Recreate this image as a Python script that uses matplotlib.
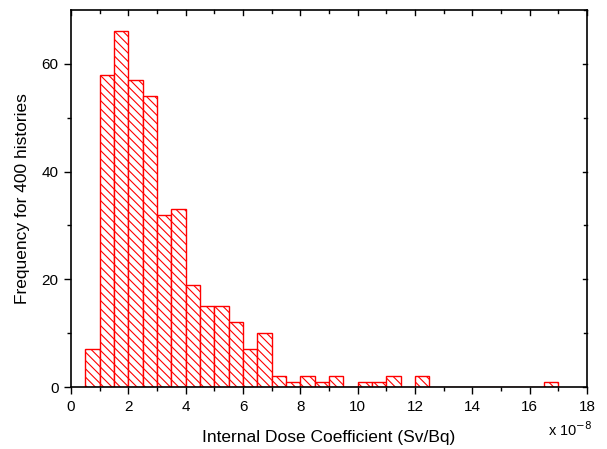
import matplotlib
matplotlib.use("Agg")
import matplotlib.pyplot as plt
import numpy as np

plt.rcParams["font.family"] = ["Liberation Sans", "DejaVu Sans"]
plt.rcParams["hatch.color"] = "red"
plt.rcParams["hatch.linewidth"] = 0.8

# bin left edges (x 1e-8 Sv/Bq), width 0.5
bin_left = [0.5, 1.0, 1.5, 2.0, 2.5, 3.0, 3.5, 4.0, 4.5, 5.0, 5.5, 6.0, 6.5, 7.0, 7.5, 8.0, 8.5, 9.0,
            9.5, 10.0, 10.5, 11.0, 11.5, 12.0, 12.5, 13.0, 13.5, 14.0, 14.5, 15.0, 15.5, 16.0, 16.5]
counts = [7, 58, 66, 57, 54, 32, 33, 19, 15, 15, 12, 7, 10, 2, 1, 2, 1, 2,
          0, 1, 1, 2, 0, 2, 0, 0, 0, 0, 0, 0, 0, 0, 1]
bin_width = 0.5

fig = plt.figure(figsize=(6.07, 4.49), dpi=100)
ax = fig.add_axes([0.117, 0.138, 0.850, 0.840])

edges = np.append(bin_left, bin_left[-1] + bin_width)
centers = np.array(bin_left) + bin_width / 2
ax.hist(centers, bins=edges, weights=counts, histtype="bar", facecolor="white",
        edgecolor="red", linewidth=1.0, hatch="\\\\\\\\")

ax.set_xlim(0, 18)
ax.set_ylim(0, 70)
ax.set_xticks(range(0, 19, 2))
ax.set_xticks(range(1, 18, 2), minor=True)
ax.set_yticks([0, 20, 40, 60])
ax.set_yticks([10, 30, 50], minor=True)
ax.tick_params(which="both", direction="out", top=False, right=False, labelsize=11)
ax.tick_params(which="major", length=5, width=1, pad=4)
ax.tick_params(which="minor", length=3, width=1)
for s in ax.spines.values():
    s.set_linewidth(1.2)

# inward ticks on top and right
for t in range(0, 19):
    ax.plot([t, t], [70, 70 - (1.0 if t % 2 == 0 else 0.6)], color="black", lw=1, clip_on=False)
for t in range(0, 71, 10):
    ax.plot([18, 18 - (0.15 if t % 20 == 0 else 0.1)], [t, t], color="black", lw=1, clip_on=False)

ax.set_xlabel("Internal Dose Coefficient (Sv/Bq)", fontsize=12.5, labelpad=12)
ax.set_ylabel("Frequency for 400 histories", fontsize=12.5, labelpad=8)
fig.text(0.903, 0.022, "x 10$^{-8}$", fontsize=10.5, ha="left", va="bottom")

fig.savefig("out.png", dpi=100)
